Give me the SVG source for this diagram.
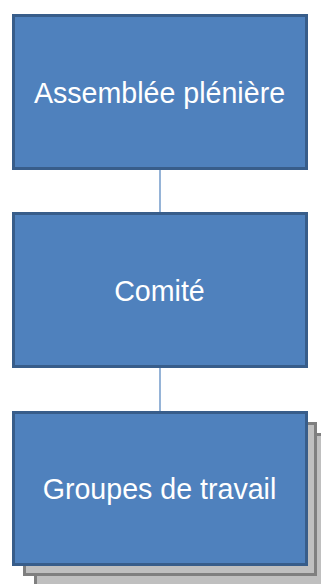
<svg xmlns="http://www.w3.org/2000/svg" width="321" height="584" viewBox="0 0 321 584">
<style>
.box{fill:#4f81bd;stroke:#385d8a;stroke-width:3}
.shadow{fill:#bfbfbf;stroke:#7f7f7f;stroke-width:3}
.lbl{font-family:"Liberation Sans",Arial,sans-serif;font-size:28.6px;fill:#ffffff;text-anchor:middle}
.conn{stroke:#4f81bd;stroke-width:1.2;fill:none}
</style>
<rect width="321" height="584" fill="#ffffff"/>
<g id="connectors">
<line class="conn" x1="160" y1="170" x2="160" y2="212"/>
<line class="conn" x1="160" y1="368" x2="160" y2="411"/>
</g>
<g id="node-assemblee">
<rect class="box" x="13.5" y="15.5" width="293" height="153"/>
<text class="lbl" x="159.5" y="103">Assemblée plénière</text>
</g>
<g id="node-comite">
<rect class="box" x="13.5" y="213.5" width="293" height="153"/>
<text class="lbl" x="159.5" y="301">Comité</text>
</g>
<g id="node-groupes">
<rect class="shadow" x="35.5" y="434.5" width="291" height="152"/>
<rect class="shadow" x="24.5" y="423.5" width="291" height="151"/>
<rect class="box" x="13.5" y="412.5" width="293" height="152"/>
<text class="lbl" x="159.5" y="499">Groupes de travail</text>
</g>
</svg>
